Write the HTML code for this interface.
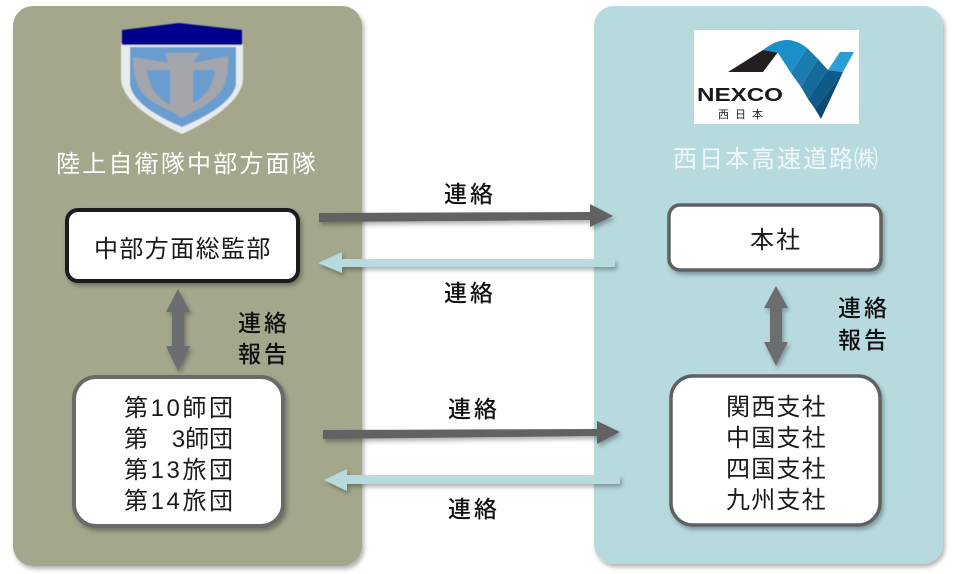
<!DOCTYPE html>
<html lang="ja">
<head>
<meta charset="utf-8">
<style>
html,body{margin:0;padding:0;background:#fff;width:955px;height:574px;overflow:hidden}
svg{display:block}
text{font-family:"Liberation Sans","Noto Sans CJK JP",sans-serif}
</style>
</head>
<body>
<svg width="955" height="574" viewBox="0 0 955 574" xmlns="http://www.w3.org/2000/svg">
<defs>
<filter id="s" x="-20%" y="-20%" width="140%" height="140%"><feDropShadow dx="2" dy="3" stdDeviation="2" flood-color="#000" flood-opacity=".3"/></filter>
<filter id="b"><feGaussianBlur stdDeviation=".5"/></filter>
</defs>
<rect x="13" y="6" width="349" height="560" rx="20" fill="#a4a78c" filter="url(#s)"/>
<rect x="594" y="6" width="349" height="558" rx="20" fill="#b7dadf" filter="url(#s)"/>

<!-- shield -->
<g filter="url(#b)">
<path d="M121 44H243V80C241 100 215 119 182 134C149 119 123 100 121 80Z" fill="#e8ebee"/>
<path d="M122 30L179 23L242 30V45H122Z" fill="#06068c"/>
<path d="M130 47H236V85C232 102 208 116 182 127C156 116 133 102 130 85Z" fill="#6a9dcf"/>
<path d="M133 57L168 63L165 53H200L193 63L228 56C229 78 224 92 212 100C200 110 190 112 182 118C174 112 162 108 150 100C139 92 133 78 133 57Z" fill="#a3a6ab"/>
<path d="M147 70H170V105C156 97 149 86 147 70Z" fill="#6a9dcf"/>
<path d="M193 70H215C213 86 206 96 193 103Z" fill="#6a9dcf"/>
</g>

<!-- NEXCO logo -->
<rect x="694" y="30" width="165" height="94" fill="#fff"/>
<path d="M728 72L763 50L778 52L763 72Z" fill="#231f20"/>
<path d="M763 50C772 43 780 40 787 40C795 40 802 44 807 48L791 73L778 53Z" fill="#1b8fc9"/>
<path d="M807 48L818 59L801 87L791 73Z" fill="#1a7cb0"/>
<path d="M818 59L828 70L808 99L801 87Z" fill="#146a9a"/>
<path d="M828 70L843 72L815 109L808 99Z" fill="#0f5a88"/>
<path d="M843 72L821 119L815 109Z" fill="#0b4a75"/>
<path d="M828 70L840 52H854L843 72Z" fill="#2a9fd6"/>
<text x="697" y="101" font-size="18" font-weight="700" fill="#1a1a1a" textLength="86" lengthAdjust="spacingAndGlyphs">NEXCO</text>
<text x="718" y="118" font-size="11" letter-spacing="6" fill="#222">西日本</text>

<text x="56" y="172" font-size="24" letter-spacing="2.2" fill="#fff">陸上自衛隊中部方面隊</text>
<text x="673" y="167" font-size="24" letter-spacing="2" fill="#eef7f8">西日本高速道路<tspan font-size="24" dx="-1">㈱</tspan></text>

<!-- boxes -->
<rect x="67" y="210" width="231" height="71" rx="11" fill="#fff" stroke="#1c1c1c" stroke-width="4" filter="url(#s)"/>
<rect x="74" y="377" width="209" height="149" rx="22" fill="#fff" stroke="#6b6b68" stroke-width="4" filter="url(#s)"/>
<rect x="669" y="205" width="212" height="65" rx="11" fill="#fff" stroke="#5f6164" stroke-width="3.5" filter="url(#s)"/>
<rect x="671" y="376" width="209" height="149" rx="22" fill="#fff" stroke="#5f6164" stroke-width="3.5" filter="url(#s)"/>

<g font-size="24" fill="#1a1a1a">
<text x="94" y="257" letter-spacing="1.4">中部方面総監部</text>
<text x="750" y="248" letter-spacing="2">本社</text>
<text x="124" y="416" textLength="109">第10師団</text>
<text x="124" y="447" textLength="109">第　3師団</text>
<text x="124" y="478" textLength="109">第13旅団</text>
<text x="124" y="509" textLength="109">第14旅団</text>
<text x="726" y="415" letter-spacing="1.2">関西支社</text>
<text x="726" y="446" letter-spacing="1.2">中国支社</text>
<text x="726" y="477" letter-spacing="1.2">四国支社</text>
<text x="726" y="508" letter-spacing="1.2">九州支社</text>
</g>

<!-- connector labels -->
<g font-size="23" fill="#111" font-weight="500" letter-spacing="3">
<text x="444" y="202">連絡</text>
<text x="444" y="301">連絡</text>
<text x="448" y="417">連絡</text>
<text x="448" y="517">連絡</text>
<text x="238" y="331">連絡</text>
<text x="238" y="362">報告</text>
<text x="838" y="316">連絡</text>
<text x="838" y="348">報告</text>
</g>

<!-- arrows -->
<g filter="url(#s)">
<path d="M319 213L590 212V204L613 216L590 227V220L319 222Z" fill="#626262"/>
<path d="M615 259V267L342 267V273L318 263L342 252V259Z" fill="#b7dadf"/>
<path d="M323 430L597 429V421L620 432L597 444V436L323 439Z" fill="#626262"/>
<path d="M620 475V484L347 484V491L324 480L347 469V475Z" fill="#b7dadf"/>
<path d="M178 289L190 312H184V346H190L178 371L166 346H172V312H166Z" fill="#6c6d70"/>
<path d="M776 286L788 308H782V342H788L776 366L764 342H770V308H764Z" fill="#6c6d70"/>
</g>
</svg>
</body>
</html>
